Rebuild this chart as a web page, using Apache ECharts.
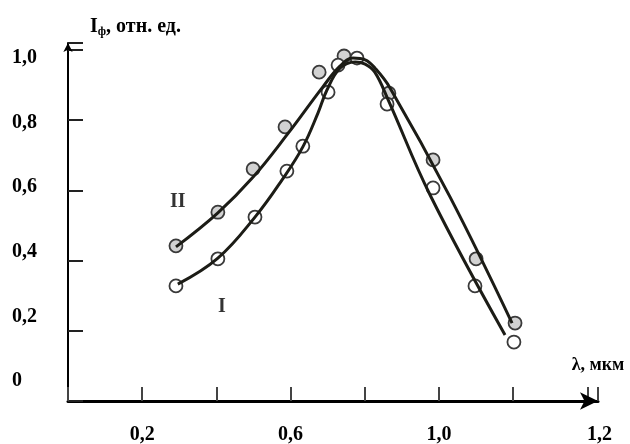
<!DOCTYPE html>
<html><head><meta charset="utf-8">
<script src="https://cdn.jsdelivr.net/npm/echarts@6/dist/echarts.min.js"></script>
<style>html,body{margin:0;padding:0;background:#fff}#c{width:630px;height:444px}</style>
</head><body><div id="c"></div>
<script>
// Tick labels
const xTickValues = [0.2, 0.6, 1.0, 1.4];
const xTickLabels = ['0,2', '0,6', '1,0', '1,2'];
const yTickValues = [0, 0.2, 0.4, 0.6, 0.8, 1.0];
const yTickLabels = ['0', '0,2', '0,4', '0,6', '0,8', '1,0'];

// Series names
const seriesNames = ['II', 'I'];

// Measured points, curve II (filled circles)
const ptsII_x = [0.291, 0.404, 0.499, 0.585, 0.677, 0.744, 0.865, 0.984, 1.100, 1.205];
const ptsII_y = [0.442, 0.538, 0.661, 0.781, 0.937, 0.983, 0.877, 0.687, 0.405, 0.222];
// Measured points, curve I (open circles)
const ptsI_x = [0.291, 0.404, 0.504, 0.590, 0.633, 0.701, 0.728, 0.779, 0.860, 0.984, 1.097, 1.202];
const ptsI_y = [0.328, 0.405, 0.524, 0.655, 0.726, 0.880, 0.957, 0.977, 0.846, 0.607, 0.328, 0.168];

// Fitted curves
const fitII_x = [0.291, 0.404, 0.499, 0.590, 0.687, 0.733, 0.768, 0.801, 0.827, 0.868, 1.030, 1.197];
const fitII_y = [0.439, 0.536, 0.638, 0.758, 0.895, 0.954, 0.977, 0.972, 0.949, 0.892, 0.581, 0.222];
const fitI_x = [0.296, 0.404, 0.504, 0.577, 0.633, 0.674, 0.698, 0.733, 0.774, 0.801, 0.827, 0.863, 0.976, 1.178];
const fitI_y = [0.333, 0.407, 0.524, 0.630, 0.724, 0.821, 0.886, 0.948, 0.966, 0.960, 0.937, 0.858, 0.587, 0.188];

// Curve label anchors (data coordinates)
const labelII = [0.296, 0.568];
const labelI = [0.415, 0.268];

const zip = (xs, ys) => xs.map((x, i) => [x, ys[i]]);
const FONT = "'Liberation Serif', 'Times New Roman', serif";

const chart = echarts.init(document.getElementById('c'), null, {renderer: 'canvas'});
const txt = {fontFamily: FONT, fontWeight: 'bold', color: '#000'};

chart.setOption({
  animation: false,
  backgroundColor: '#fff',
  grid: {left: 68, right: 32, top: 43, bottom: 43, containLabel: false, outerBoundsMode: 'none'},
  xAxis: [{
    type: 'value', min: 0, max: 1.4286, interval: 0.2,
    name: 'λ, мкм', nameLocation: 'end', nameGap: 0,
    nameTextStyle: Object.assign({fontSize: 18, align: 'center', verticalAlign: 'bottom', padding: [0, 0, 27, 0]}, txt),
    axisLine: {show: true, lineStyle: {color: '#000', width: 3}, symbol: ['none', 'arrow'], symbolSize: [13, 18]},
    axisTick: {show: true, inside: true, length: 14, lineStyle: {color: '#444', width: 2}},
    axisLabel: Object.assign({
      show: true, margin: 24, fontSize: 20,
      formatter: v => {
        const i = xTickValues.findIndex(t => Math.abs(t - v) < 1e-6);
        if (i < 0) return '';
        return i === xTickValues.length - 1 ? '{s|' + xTickLabels[i] + '}' : xTickLabels[i];
      },
      rich: {s: Object.assign({fontSize: 20, padding: [0, 0, 0, 24]}, txt)}
    }, txt),
    splitLine: {show: false}
  }],
  yAxis: [{
    type: 'value', min: 0, max: 1.02, interval: 0.2,
    name: '{a|I}{b|ф}{a|, отн. ед.}', nameLocation: 'end', nameGap: 5,
    nameTextStyle: {
      align: 'left', padding: [0, 0, 0, 22],
      rich: {
        a: Object.assign({fontSize: 20, lineHeight: 22}, txt),
        b: Object.assign({fontSize: 12, lineHeight: 22, padding: [10, 0, 0, 0]}, txt)
      }
    },
    axisLine: {show: true, lineStyle: {color: '#000', width: 2}, symbol: ['none', 'arrow'], symbolSize: [7, 9]},
    axisTick: {show: true, inside: true, length: 15, lineStyle: {color: '#222', width: 2}},
    axisLabel: {show: false},
    splitLine: {show: false}
  }, {
    type: 'value', position: 'left', min: -0.0619, max: 1.0464,
    axisLine: {show: false}, axisTick: {show: false}, splitLine: {show: false},
    axisLabel: Object.assign({
      show: true, customValues: yTickValues, align: 'left', margin: 56, fontSize: 20,
      formatter: v => {
        const i = yTickValues.findIndex(t => Math.abs(t - v) < 1e-6);
        return i < 0 ? '' : yTickLabels[i];
      }
    }, txt)
  }],
  series: [
    {
      name: seriesNames[0] + ' points', type: 'scatter', data: zip(ptsII_x, ptsII_y),
      symbol: 'circle', symbolSize: 13,
      itemStyle: {color: '#d2d2d2', borderColor: '#3a3a3a', borderWidth: 1.8, opacity: 1}, z: 2
    },
    {
      name: seriesNames[1] + ' points', type: 'scatter', data: zip(ptsI_x, ptsI_y),
      symbol: 'circle', symbolSize: 13,
      itemStyle: {color: '#fff', borderColor: '#3a3a3a', borderWidth: 1.8, opacity: 1}, z: 2
    },
    {
      name: seriesNames[0], type: 'line', data: zip(fitII_x, fitII_y), smooth: 0.4,
      symbol: 'none', lineStyle: {color: '#1c1c16', width: 3}, z: 3
    },
    {
      name: seriesNames[1], type: 'line', data: zip(fitI_x, fitI_y), smooth: 0.4,
      symbol: 'none', lineStyle: {color: '#1c1c16', width: 3}, z: 3
    },
    {
      name: 'labels', type: 'scatter', symbolSize: 1, itemStyle: {color: 'rgba(0,0,0,0)'},
      data: [{name: seriesNames[0], value: labelII}, {name: seriesNames[1], value: labelI}],
      label: Object.assign({show: true, position: 'inside', fontSize: 20, formatter: p => p.name}, txt), z: 4
    }
  ]
});
</script>
</body></html>
